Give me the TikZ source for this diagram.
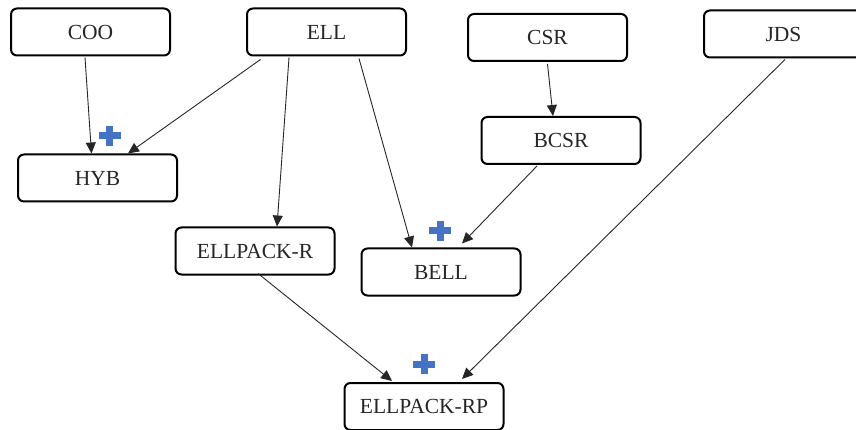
\documentclass[tikz,border=0pt]{standalone}
\usepackage{fontspec}
\setmainfont{Liberation Serif}
\usetikzlibrary{arrows.meta,calc}
\definecolor{plusblue}{HTML}{4472C4}
\tikzset{
  fbox/.style={draw=black, line width=2pt, rounded corners=6pt, fill=white,
    minimum width=159pt, minimum height=47pt, inner sep=0pt,
    font=\fontsize{21.5}{25}\selectfont, text=black!85},
  conn/.style={draw=black!85, line width=0.9pt, -{Triangle[length=11pt,width=10pt]}},
  plusmark/.pic={
    \fill[plusblue] (-11pt,-3.5pt) rectangle (11pt,3.5pt);
    \fill[plusblue] (-3.5pt,-10pt) rectangle (3.5pt,10pt);
  }
}
\begin{document}
\begin{tikzpicture}[x=1pt,y=-1pt]
\useasboundingbox (0,0) rectangle (856,430);
\clip (0,0) rectangle (856,430);
\node[fbox] (coo)  at (90.5,32)  {COO};
\node[fbox] (ell)  at (326.5,32) {ELL};
\node[fbox] (csr)  at (547.5,37.5) {CSR};
\node[fbox] (jds)  at (783.5,34) {JDS};
\node[fbox] (bcsr) at (561,140.5) {BCSR};
\node[fbox] (hyb)  at (97.5,178) {HYB};
\node[fbox] (ellr) at (255,251)  {ELLPACK-R};
\node[fbox] (bell) at (441,272)  {BELL};
\node[fbox] (rp)   at (424,406.5) {ELLPACK-RP};

\draw[conn] ($(coo.south)+(-5.5,1)$) -- ($(hyb.north)+(-6,0)$);
\draw[conn] ($(ell.south)+(-66,3)$) -- ($(hyb.north)+(30.5,0)$);
\draw[conn] ($(ell.south)+(-37.5,1)$) -- ($(ellr.north)+(22,0)$);
\draw[conn] ($(ell.south)+(32.5,2)$) -- ($(bell.north)+(-29,0)$);
\draw[conn] ($(csr.south)+(0,2)$) -- ($(bcsr.north)+(-8,0)$);
\draw[conn] ($(bcsr.south)+(-24,1)$) -- ($(bell.north)+(21,-4)$);
\draw[conn] ($(jds.south)+(1.5,1)$) -- ($(rp.north)+(38,-3)$);
\draw[conn] ($(ellr.south)+(3,-2)$) -- ($(rp.north)+(-32,-1)$);

\pic at (109.5,136) {plusmark};
\pic at (440,231) {plusmark};
\pic at (424,364) {plusmark};
\end{tikzpicture}
\end{document}
